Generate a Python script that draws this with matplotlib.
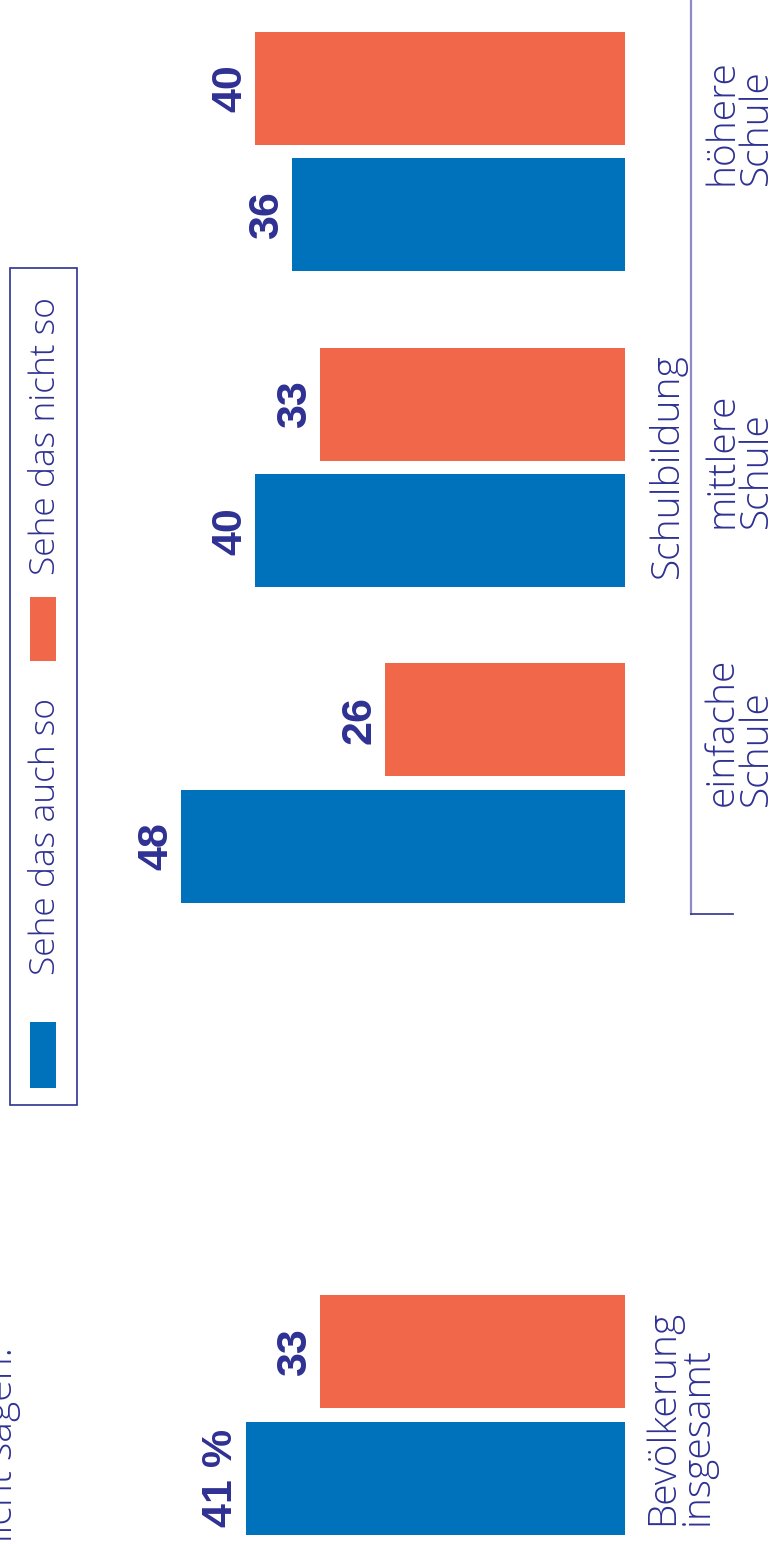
import matplotlib.pyplot as plt

# values in percent
categories = ['Bevölkerung\ninsgesamt', 'einfache\nSchule', 'mittlere\nSchule', 'höhere\nSchule']
agree = [41, 48, 40, 36]        # Sehe das auch so
disagree = [33, 26, 33, 40]     # Sehe das nicht so
agree_labels = ['41 %', '48', '40', '36']
disagree_labels = ['33', '26', '33', '40']

navy = '#2e3192'
blue = '#0072bc'
orange = '#f0674a'

W, H = 776, 1544
fig = plt.figure(figsize=(W / 100, H / 100), dpi=100)
ax = fig.add_axes([0, 0, 1, 1])
# value axis runs right to left, zero at x=625 px
scale = 9.25
ax.set_xlim(625 / scale, -(W - 625) / scale)
ax.set_ylim(H, 0)
ax.axis('off')

group_y = [1415, 783, 467.5, 151.5]
off = 63.25
bh = 113
y_agree = [g + off for g in group_y]
y_dis = [g - off for g in group_y]

ax.barh(y_agree, agree, height=bh, color=blue)
ax.barh(y_dis, disagree, height=bh, color=orange)

gap = 14 / scale
for yy, v, lab in zip(y_agree, agree, agree_labels):
    ax.text(v + gap, yy, lab, rotation=90, rotation_mode='anchor', ha='center', va='baseline',
            fontsize=31, fontweight='bold', family='Liberation Sans', color=navy)
for yy, v, lab in zip(y_dis, disagree, disagree_labels):
    ax.text(v + gap, yy, lab, rotation=90, rotation_mode='anchor', ha='center', va='baseline',
            fontsize=31, fontweight='bold', family='Liberation Sans', color=navy)


def px(x, y):
    return x / W, 1 - y / H


light = dict(family='Open Sans', fontweight='light', color=navy, rotation=90, rotation_mode='anchor')

# category labels, anchored at the baseline of the second line
label_x = [712, 771, 771, 771]
label_bottom = [1525, 806, 528, 185]
for lab, xb, yb in zip(categories, label_x, label_bottom):
    fig.text(*px(xb, yb), lab, ha='left', va='baseline', multialignment='left',
             fontsize=28, linespacing=0.85, **light)

fig.text(*px(678, 578), 'Schulbildung', ha='left', va='baseline', fontsize=28, **light)

# bracket line for school groups
fig.add_artist(plt.Line2D([691 / W, 691 / W], [1, 1 - 914 / H], color='#8c8cc8', lw=1.6))
fig.add_artist(plt.Line2D([691 / W, 733 / W], [1 - 914 / H, 1 - 914 / H], color=navy, lw=1.2))

# legend
fig.add_artist(plt.Rectangle(px(10, 1105), 67 / W, 837 / H, fill=False, ec=navy, lw=1.2))
fig.add_artist(plt.Rectangle(px(30, 1088), 26 / W, 66 / H, color=blue, lw=0))
fig.add_artist(plt.Rectangle(px(30, 661), 26 / W, 64 / H, color=orange, lw=0))
fig.text(*px(55, 975), 'Sehe das auch so', ha='left', va='baseline', fontsize=25.5, **light)
fig.text(*px(55, 575), 'Sehe das nicht so', ha='left', va='baseline', fontsize=25.5, **light)

# question text, cut at the page edge
fig.text(*px(12, 1347), 'Das würden nicht sagen:', ha='right', va='baseline', fontsize=28, **light)

fig.savefig('out.png', dpi=100)
